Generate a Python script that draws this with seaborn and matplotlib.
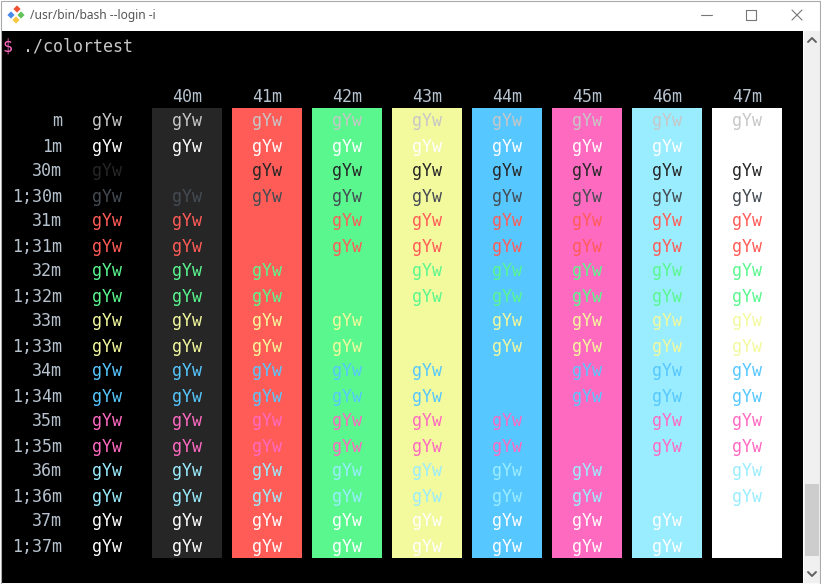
import matplotlib
matplotlib.use("Agg")
import matplotlib.pyplot as plt
from matplotlib.patches import Rectangle, Polygon
from matplotlib.lines import Line2D
import seaborn as sns

# colortest grid: foreground codes (rows) x background codes (columns)
fg_codes = ["m", "1m", "30m", "1;30m", "31m", "1;31m", "32m", "1;32m",
            "33m", "1;33m", "34m", "1;34m", "35m", "1;35m", "36m", "1;36m",
            "37m", "1;37m"]
fg_colors = ["#c7c7c7", "#ffffff", "#262626", "#454b53", "#ff5c57", "#ff5c57",
             "#5af78e", "#5af78e", "#f3f99d", "#f3f99d", "#57c7ff", "#57c7ff",
             "#ff6ac1", "#ff6ac1", "#9aedfe", "#9aedfe", "#ffffff", "#ffffff"]
bg_codes = ["40m", "41m", "42m", "43m", "44m", "45m", "46m", "47m"]
bg_colors = ["#262626", "#ff5c57", "#5af78e", "#f3f99d", "#57c7ff", "#ff6ac1",
             "#9aedfe", "#ffffff"]
sample = "gYw"

W, H = 821, 584
mono = ["DejaVu Sans Mono"]
label_col = "#b6c2ce"
dy = 0.06  # text sits a touch low in the cell

sns.set_style("white")
plt.rcParams["font.family"] = ["DejaVu Sans"]

fig = plt.figure(figsize=(W / 100, H / 100), dpi=100, facecolor="white")

def fx(px):
    return px / W

def fy(py):
    return 1 - py / H

# window chrome
fig.patches.append(Rectangle((fx(1), fy(583)), fx(803) - fx(1), fy(31) - fy(583),
                             transform=fig.transFigure, facecolor="black",
                             edgecolor="none", zorder=-5))
fig.patches.append(Rectangle((fx(804), fy(583)), fx(820) - fx(804), fy(31) - fy(583),
                             transform=fig.transFigure, facecolor="#f0f0f0",
                             edgecolor="none", zorder=-5))
fig.patches.append(Rectangle((fx(805), fy(556)), fx(819) - fx(805), fy(484) - fy(556),
                             transform=fig.transFigure, facecolor="#cdcdcd",
                             edgecolor="none", zorder=-4))
fig.patches.append(Rectangle((fx(0.5), fy(583.5)), fx(820) - fx(0.5), fy(0.5) - fy(583.5),
                             transform=fig.transFigure, facecolor="none",
                             edgecolor="#aaaaaa", linewidth=0.8, zorder=10))

def seg(xs, ys, color="#777777", lw=0.8):
    fig.lines.append(Line2D([fx(x) for x in xs], [fy(y) for y in ys],
                            transform=fig.transFigure, color=color, linewidth=lw))

seg([701, 712], [15, 15])
seg([746, 756, 756, 746, 746], [10, 10, 20, 20, 10])
seg([792, 802], [10, 20])
seg([792, 802], [20, 10])
seg([808, 812, 816], [42, 38, 42], color="#606060", lw=1.4)
seg([808, 812, 816], [572, 576, 572], color="#606060", lw=1.4)

# git icon: four small diamonds
for (cx, cy), col in zip([(11, 15), (17, 9), (21, 15), (16, 20)],
                         ["#4a8ae8", "#f05133", "#62c35a", "#f7c840"]):
    r = 3.6
    fig.patches.append(Polygon([(fx(cx - r), fy(cy)), (fx(cx), fy(cy - r)),
                                (fx(cx + r), fy(cy)), (fx(cx), fy(cy + r))],
                               closed=True, transform=fig.transFigure,
                               facecolor=col, edgecolor="none"))

fig.text(fx(30), fy(15), "/usr/bin/bash --login -i", ha="left", va="center",
         fontsize=8.6, color="#555555", family=["Noto Sans", "DejaVu Sans"])

# terminal grid axes: column index / row index
ax = fig.add_axes([0, 0, 1, 1])
ax.set_facecolor("none")

sns.barplot(x=bg_codes, y=[len(fg_codes)] * len(bg_codes), hue=bg_codes,
            palette=bg_colors, saturation=1, width=0.875, bottom=-0.5,
            linewidth=0, errorbar=None, legend=False, ax=ax)

ax.set_xlim(-187 / 80, (W - 187) / 80)
ax.set_ylim((H - 120) / 25, -120 / 25)
ax.axis("off")

# prompt line
ax.text(-184 / 80, -3 + dy, "$", ha="left", va="center", fontsize=12,
        family=mono, color="#ff6ac1")
ax.text(-164 / 80, -3 + dy, "./colortest", ha="left", va="center", fontsize=12,
        family=mono, color="#c7c7c7")

for j, code in enumerate(bg_codes):
    ax.text(j, -1 + dy, code, ha="center", va="center", fontsize=12,
            family=mono, color=label_col)

for i, (code, fc) in enumerate(zip(fg_codes, fg_colors)):
    ax.text(-1 - 45 / 80, i + dy, code, ha="right", va="center", fontsize=12,
            family=mono, color=label_col)
    ax.text(-1, i + dy, sample, ha="center", va="center", fontsize=12,
            family=mono, color=fc)
    for j in range(len(bg_codes)):
        ax.text(j, i + dy, sample, ha="center", va="center", fontsize=12,
                family=mono, color=fc)

fig.savefig("out.png", dpi=100, facecolor="white")
